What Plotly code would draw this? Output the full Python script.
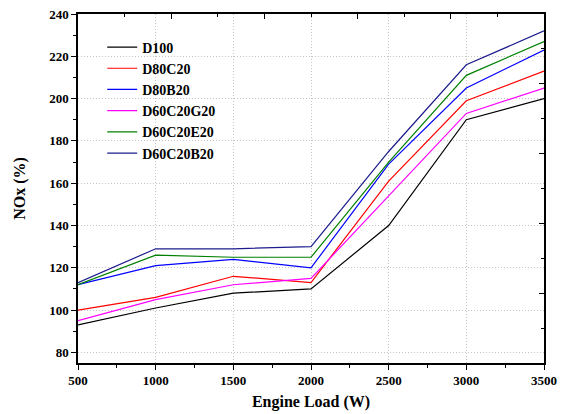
import plotly.graph_objects as go

loads = [500, 1000, 1500, 2000, 2500, 3000, 3500]
d100 = [93, 101, 108, 110, 140, 190, 200]
d80c20 = [100, 106, 116, 113, 161, 199, 213]
d80b20 = [112, 121, 124, 120, 169, 205, 223]
d60c20g20 = [95, 105, 112, 115, 154, 193, 205]
d60c20e20 = [112, 126, 125, 125, 170, 211, 227]
d60c20b20 = [113, 129, 129, 130, 175, 216, 232]

names = ["D100", "D80C20", "D80B20", "D60C20G20", "D60C20E20", "D60C20B20"]
series = [d100, d80c20, d80b20, d60c20g20, d60c20e20, d60c20b20]
colors = ["#000000", "#FF0000", "#0000FF", "#FF00FF", "#008000", "#1C1C8C"]

FONT = "Liberation Serif, Times New Roman, serif"

fig = go.Figure()

for n, s, c in zip(names, series, colors):
    fig.add_trace(go.Scatter(x=loads, y=s, mode="lines", name=n,
                             line=dict(color=c, width=1.2)))

# empty trace so the mirrored (top/right) axes are drawn
fig.add_trace(go.Scatter(x=[None], y=[None], xaxis="x2", yaxis="y2",
                         showlegend=False, hoverinfo="skip"))

axis_font = dict(family=FONT, size=13, color="black", weight="bold")
title_font = dict(family=FONT, size=16, color="black", weight="bold")
GRID = dict(showgrid=True, gridcolor="#c4c4c4", griddash="1px,2px", gridwidth=1)

fig.update_layout(
    width=565, height=414,
    margin=dict(l=78, r=21, t=14, b=51),
    paper_bgcolor="white", plot_bgcolor="white",
    font=dict(family=FONT, color="black"),
    showlegend=True,
    legend=dict(x=0.052, y=0.95, xanchor="left", yanchor="top",
                traceorder="normal",
                bgcolor="rgba(0,0,0,0)", borderwidth=0,
                font=dict(family=FONT, size=14, color="black", weight="bold"),
                tracegroupgap=0),
    xaxis=dict(range=[500, 3500], dtick=500, tick0=500, automargin=False,
               showline=True, linecolor="black", linewidth=1.5,
               ticks="outside", ticklen=5, tickwidth=1.2, tickcolor="black",
               minor=dict(dtick=250, ticks="outside", ticklen=3, tickcolor="black", showgrid=False),
               zeroline=False, tickfont=axis_font,
               title=dict(text="Engine Load (W)", font=title_font, standoff=8), **GRID),
    yaxis=dict(range=[75, 240], tickvals=[80, 100, 120, 140, 160, 180, 200, 220, 240],
               automargin=False,
               showline=True, linecolor="black", linewidth=1.5,
               ticks="outside", ticklen=5, tickwidth=1.2, tickcolor="black",
               minor=dict(tickvals=[90, 110, 130, 150, 170, 190, 210, 230], ticks="outside",
                          ticklen=3, tickcolor="black", showgrid=False),
               zeroline=False, tickfont=axis_font,
               title=dict(text="NOx (%)", font=title_font, standoff=20), **GRID),
    xaxis2=dict(overlaying="x", side="top", anchor="y", range=[0, 5], dtick=1,
                automargin=False,
                showline=True, linecolor="black", linewidth=1.5,
                ticks="inside", ticklen=5, tickwidth=1.2, tickcolor="black",
                minor=dict(dtick=0.5, ticks="inside", ticklen=3, tickcolor="black", showgrid=False),
                showticklabels=False, showgrid=False, zeroline=False),
    yaxis2=dict(overlaying="y", side="right", anchor="x", range=[0, 5], dtick=1,
                automargin=False,
                showline=True, linecolor="black", linewidth=1.5,
                ticks="inside", ticklen=5, tickwidth=1.2, tickcolor="black",
                minor=dict(dtick=0.5, ticks="inside", ticklen=3, tickcolor="black", showgrid=False),
                showticklabels=False, showgrid=False, zeroline=False),
)

fig.write_html("out.html")
